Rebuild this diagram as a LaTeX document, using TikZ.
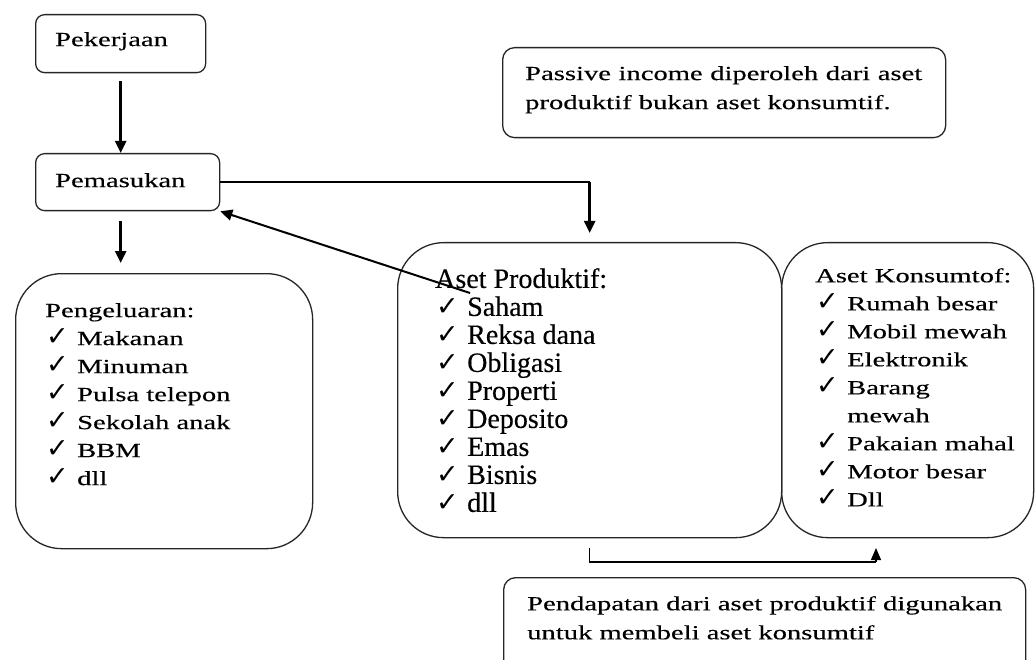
\documentclass[tikz,border=0pt]{standalone}
\usepackage{fontspec}
\setmainfont{Liberation Serif}[FakeStretch=1.43,FakeBold=0.3]
\newfontfamily\tegak{Liberation Serif}[FakeBold=0.3]
\newfontfamily\cekfont{DejaVu Sans}
\usetikzlibrary{arrows.meta,positioning}
\newcommand{\cek}{\makebox[32pt][l]{\hspace{1pt}{\cekfont\fontsize{27}{20}\selectfont ✓}}}
\newcommand{\sela}{\makebox[32pt]{}}

\tikzset{
  kotak/.style={draw=black!85,line width=1.3pt,rounded corners=9pt,anchor=north west,inner sep=0pt},
  bulat/.style={kotak,rounded corners=46pt},
  isi/.style={anchor=north west,inner sep=0pt,align=left,font=\fontsize{20}{28}\selectfont},
  panah/.style={line width=2.6pt,-{Triangle[width=11pt,length=12pt]}},
  garis/.style={line width=1.3pt},
}

\begin{document}
\begin{tikzpicture}[x=1pt,y=-1pt]
\useasboundingbox[fill=white] (0,0) rectangle (1035,660);

% kolom kiri
\node[kotak,minimum width=170pt,minimum height=58pt] (kerja) at (35,14) {};
\node[isi,below right=18pt and 20pt of kerja.north west] (kerjateks) {Pekerjaan};
\node[kotak,minimum width=184pt,minimum height=57pt] (masuk) at (35,153) {};
\node[isi,below right=20pt and 20pt of masuk.north west] (masukteks) {Pemasukan};
\node[bulat,minimum width=297pt,minimum height=275pt] (keluar) at (15,273) {};
\node[isi,below right=30pt and 30pt of keluar.north west] (keluarteks) {%
Pengeluaran:\\
\cek Makanan\\
\cek Minuman\\
\cek Pulsa telepon\\
\cek Sekolah anak\\
\cek BBM\\
\cek dll};

% kotak aset
\node[bulat,minimum width=384pt,minimum height=295pt] (produktif) at (397,242) {};
\node[isi,font=\tegak\fontsize{28}{28}\selectfont,
  below right=26pt and 38pt of produktif.north west] (produktifteks) {%
Aset Produktif:\\
\cek Saham\\
\cek Reksa dana\\
\cek Obligasi\\
\cek Properti\\
\cek Deposito\\
\cek Emas\\
\cek Bisnis\\
\cek dll};
\node[bulat,minimum width=252pt,minimum height=295pt] (konsumtif) at (781,242) {};
\node[isi,below right=26pt and 34pt of konsumtif.north west] (konsumtifteks) {%
Aset Konsumtof:\\
\cek Rumah besar\\
\cek Mobil mewah\\
\cek Elektronik\\
\cek Barang\\
\sela mewah\\
\cek Pakaian mahal\\
\cek Motor besar\\
\cek Dll};

% keterangan
\node[kotak,rounded corners=12pt,minimum width=443pt,minimum height=90pt] (pasif) at (502,47) {};
\node[isi,text width=397pt,align=justify,font=\fontsize{20}{29}\selectfont,
  below right=19pt and 23pt of pasif.north west] (pasifteks) {%
Passive income diperoleh dari aset produktif bukan aset konsumtif.};
\node[kotak,rounded corners=12pt,minimum width=522pt,minimum height=120pt] (hasil) at (503,577) {};
\node[isi,font=\fontsize{20}{29}\selectfont,below right=19pt and 24pt of hasil.north west] (hasilteks) {%
Pendapatan dari aset produktif digunakan\\
untuk membeli aset konsumtif};

% panah
\coordinate (belok) at (masuk.east -| produktif.north);
\coordinate (saham) at (470,293);
\coordinate (siku) at (876,562);
\coordinate (ujung) at (876,548);
\draw[panah,shorten <=8pt] (kerja.south) -- (kerja.south |- masuk.north);
\draw[panah,shorten <=10pt,shorten >=10pt] (kerja.south |- masuk.south) -- (kerja.south |- keluar.north);
\draw[garis] (masuk.east) -- (belok);
\draw[panah,shorten >=9pt] (belok) -- (produktif.north);
\draw[panah,line width=2pt] (saham) -- (masuk.south east);
\draw[garis] ([yshift=-10pt]produktif.south) |- (siku);
\draw[garis,-{Triangle[width=10pt,length=12pt]}] (siku) -- (ujung);
\end{tikzpicture}
\end{document}
